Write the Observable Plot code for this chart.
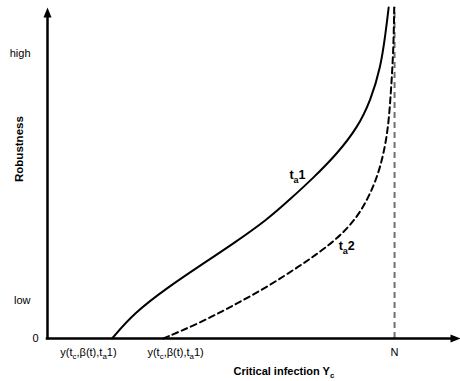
<!DOCTYPE html>
<html>
<head>
<meta charset="utf-8">
<script src="https://cdn.jsdelivr.net/npm/d3@7"></script>
<script src="https://cdn.jsdelivr.net/npm/@observablehq/plot@0.6"></script>
<style>
  html, body { margin: 0; padding: 0; background: #fff; }
</style>
</head>
<body>
<div id="chart"></div>
<script>
// ---- data (x in units of N, y robustness 0..100) ----
const solidX = [0.186, 0.248, 0.346, 0.441, 0.536, 0.634, 0.695, 0.767, 0.836, 0.893, 0.931, 0.960, 0.974, 0.983];
const solidY = [0, 7.6, 15.4, 22.1, 28.7, 36.0, 41.7, 48.6, 56.0, 63.7, 71.9, 81.9, 92.1, 100];
const dashedX = [0.334, 0.441, 0.536, 0.634, 0.729, 0.767, 0.836, 0.893, 0.931, 0.960, 0.980, 0.988, 0.997, 0.999];
const dashedY = [0, 4.8, 10.0, 15.6, 22.1, 24.8, 30.2, 36.6, 43.8, 51.7, 61.9, 71.9, 87.0, 100];

const yTickLabels = ["0", "low", "high"];
const yTickValues = [0, 11.5, 86.1];
const xTickLabels = ["y(t_c,β(t),t_a1)", "y(t_c,β(t),t_a1)", "N"];
const xTickValues = [0.118, 0.369, 1.0];

const seriesLabels = ["t_a1", "t_a2"];
const seriesLabelX = [0.697, 0.839];
const seriesLabelY = [49.5, 28.0];

const N = 1.0;
const xMax = 1.19;
const yMax = 100;

const solid = solidX.map((x, i) => ({x, y: solidY[i]}));
const dashed = dashedX.map((x, i) => ({x, y: dashedY[i]}));
const yTicks = yTickLabels.map((label, i) => ({label, y: yTickValues[i]}));
const xTicks = xTickLabels.map((label, i) => ({label, x: xTickValues[i]}));
const curveLabels = seriesLabels.map((label, i) => ({label, x: seriesLabelX[i], y: seriesLabelY[i]}));

// filled arrowhead, tip at origin, pointing up
const arrowHead = {
  draw(ctx) {
    ctx.moveTo(0, 0);
    ctx.lineTo(4, 10);
    ctx.lineTo(-4, 10);
    ctx.closePath();
  }
};

const font = "'Liberation Sans', Arial, Helvetica, sans-serif";

const chart = Plot.plot({
  width: 460,
  height: 381,
  marginLeft: 47,
  marginRight: 0,
  marginTop: 7,
  marginBottom: 43,
  style: {fontFamily: font, fontSize: "11px", background: "#fff", color: "#000"},
  x: {domain: [0, xMax], axis: null},
  y: {domain: [0, yMax], axis: null},
  marks: [
    // N vertical dashed line
    Plot.ruleX([N], {y1: 0, y2: yMax, stroke: "#707070", strokeWidth: 2, strokeDasharray: "6,4"}),
    // curves
    Plot.line(solid, {x: "x", y: "y", curve: "basis", stroke: "#000", strokeWidth: 2}),
    Plot.line(dashed, {x: "x", y: "y", curve: "basis", stroke: "#000", strokeWidth: 2, strokeDasharray: "6,4"}),
    // axes lines with arrows
    Plot.ruleX([0], {y1: 0, y2: yMax * 0.975, stroke: "#000", strokeWidth: 2.5, strokeLinecap: "square"}),
    Plot.ruleY([0], {x1: 0, x2: xMax * 0.985, stroke: "#000", strokeWidth: 2.5, strokeLinecap: "square"}),
    Plot.dot([0], {x: 0, y: yMax, symbol: arrowHead, fill: "#000", stroke: null, r: 5}),
    Plot.dot([0], {x: xMax, y: 0, symbol: arrowHead, fill: "#000", stroke: null, r: 5, rotate: 90}),
    // y tick labels
    Plot.text(yTicks, {filter: (d, i) => i === 0, x: 0, y: "y", text: "label", textAnchor: "end", dx: -9, fontSize: 11}),
    Plot.text(yTicks, {filter: (d, i) => i > 0, x: 0, y: "y", text: "label", textAnchor: "end", dx: -17, fontSize: 11}),
    // x tick labels
    Plot.text(xTicks, {x: "x", y: 0, text: "label", dy: 13.5, fontSize: 11}),
    // axis titles
    Plot.text(["Critical infection Y_c"], {x: 0.536, y: 0, textAnchor: "start", dy: 32.5, fontWeight: "bold", fontSize: 11}),
    Plot.text(["Robustness"], {frameAnchor: "left", dx: -28, dy: 9, rotate: -90, fontWeight: "bold", fontSize: 11.5}),
    // curve labels
    Plot.text(curveLabels, {x: "x", y: "y", text: "label", textAnchor: "start", fontWeight: "bold", fontSize: 12.5})
  ]
});

document.getElementById("chart").appendChild(chart);

// convert "_x" markers into subscript tspans
chart.querySelectorAll("text").forEach(t => {
  const s = t.textContent;
  if (!s.includes("_")) return;
  const fs = parseFloat(getComputedStyle(t).fontSize) || 11;
  const shift = 0.32 * fs;
  const parts = s.split(/_(.)/);
  t.textContent = "";
  const ns = "http://www.w3.org/2000/svg";
  let lowered = false;
  parts.forEach((p, i) => {
    if (!p) return;
    const ts = document.createElementNS(ns, "tspan");
    ts.textContent = p;
    if (i % 2 === 1) {
      ts.setAttribute("font-size", (0.72 * fs).toFixed(2));
      ts.setAttribute("dy", shift.toFixed(2));
      lowered = true;
    } else if (lowered) {
      ts.setAttribute("dy", (-shift).toFixed(2));
      lowered = false;
    }
    t.appendChild(ts);
  });
});
</script>
</body>
</html>
